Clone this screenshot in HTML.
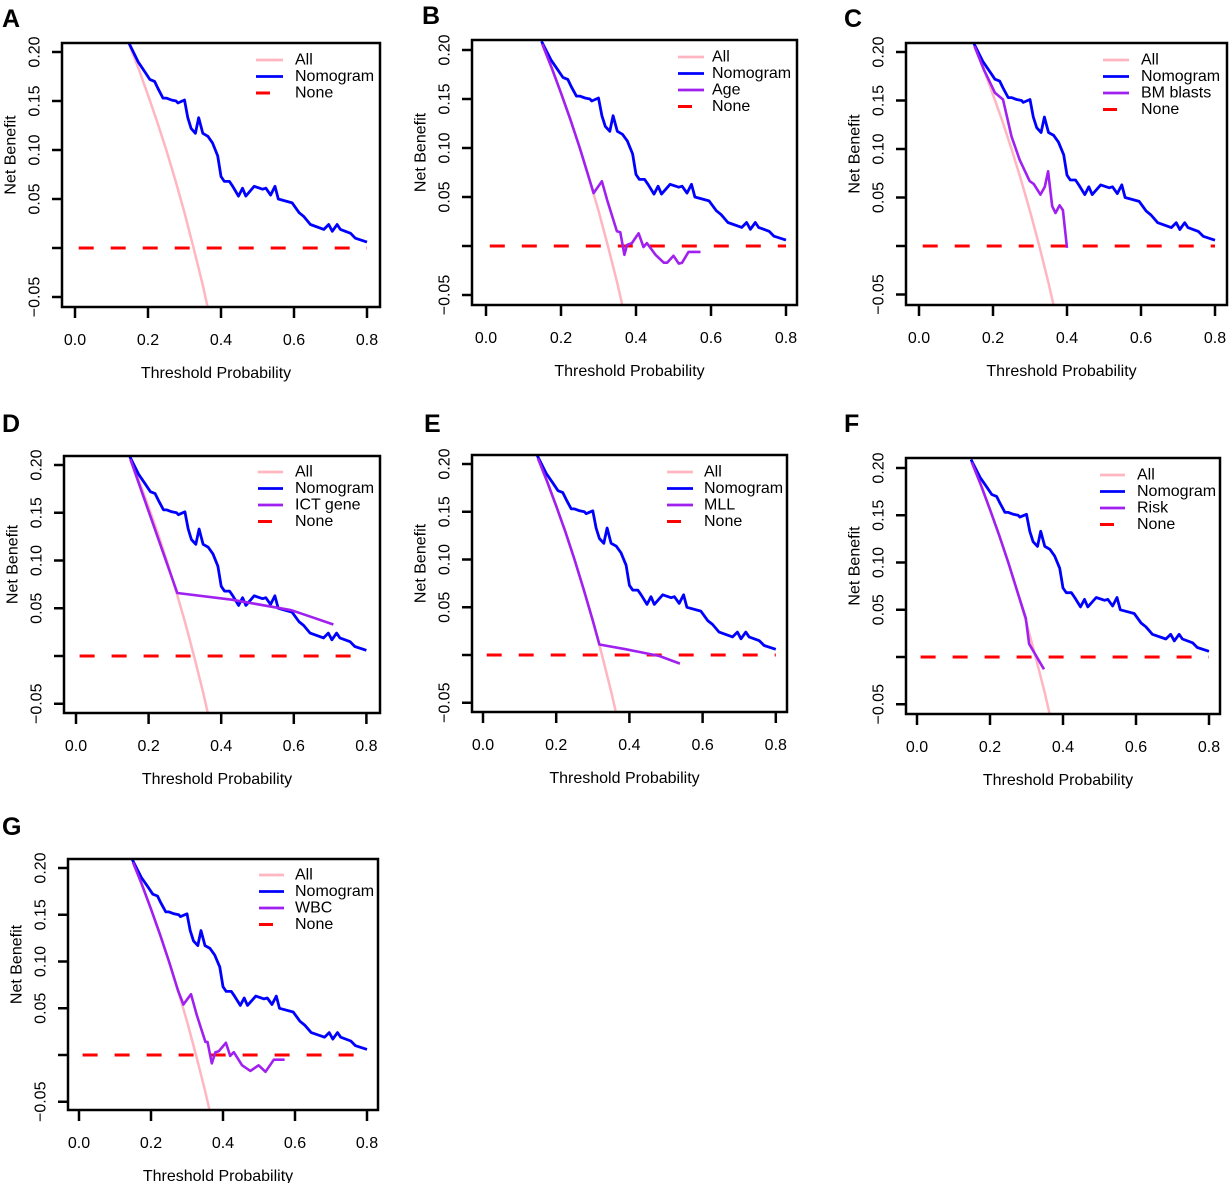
<!DOCTYPE html>
<html><head><meta charset="utf-8"><style>
html,body{margin:0;padding:0;background:#fff}
svg{display:block;font-family:"Liberation Sans",Arial,sans-serif}
</style></head><body>
<svg id="fig" width="1229" height="1183" viewBox="0 0 1229 1183" xmlns="http://www.w3.org/2000/svg"></svg>
<script>
// ---------- data ----------
const nomoX = [0.148,0.173,0.191,0.205,0.218,0.227,0.241,0.250,0.264,0.277,0.282,0.300,0.309,0.318,0.330,0.339,0.350,0.364,0.377,0.391,0.400,0.409,0.423,0.432,0.448,0.459,0.468,0.491,0.514,0.523,0.536,0.548,0.557,0.595,0.614,0.627,0.645,0.682,0.695,0.705,0.718,0.727,0.755,0.768,0.800];
const nomoY = [0.209,0.190,0.180,0.172,0.170,0.163,0.153,0.153,0.151,0.150,0.148,0.151,0.133,0.122,0.117,0.133,0.117,0.114,0.107,0.094,0.073,0.068,0.068,0.063,0.053,0.061,0.053,0.063,0.060,0.061,0.054,0.063,0.050,0.046,0.036,0.032,0.024,0.019,0.024,0.017,0.024,0.019,0.015,0.010,0.006];
const allX = [0.150,0.175,0.200,0.225,0.250,0.275,0.300,0.325,0.350,0.365];
const allY = [0.206,0.182,0.156,0.129,0.100,0.069,0.036,0.000,-0.038,-0.063];
const noneX = [0.01,0.80];
const noneY = [0,0];
const ageX = [0.150,0.175,0.200,0.225,0.250,0.275,0.287,0.309,0.323,0.349,0.358,0.369,0.376,0.389,0.407,0.420,0.429,0.452,0.474,0.483,0.500,0.514,0.523,0.540,0.572];
const ageY = [0.206,0.182,0.156,0.129,0.100,0.069,0.054,0.066,0.047,0.015,0.014,-0.009,0.001,0.003,0.013,-0.001,0.003,-0.009,-0.017,-0.017,-0.010,-0.018,-0.017,-0.006,-0.006];
const bmX = [0.150,0.175,0.205,0.227,0.250,0.272,0.299,0.310,0.328,0.340,0.349,0.360,0.369,0.380,0.389,0.400];
const bmY = [0.206,0.182,0.158,0.151,0.113,0.089,0.067,0.064,0.053,0.061,0.077,0.041,0.034,0.042,0.037,-0.002];
const ictX = [0.150,0.279,0.429,0.593,0.647,0.709];
const ictY = [0.206,0.066,0.059,0.048,0.041,0.033];
const mllX = [0.150,0.175,0.200,0.225,0.250,0.275,0.300,0.318,0.391,0.482,0.538];
const mllY = [0.206,0.182,0.156,0.129,0.100,0.069,0.036,0.011,0.006,-0.001,-0.009];
const riskX = [0.150,0.175,0.200,0.225,0.250,0.275,0.298,0.307,0.348];
const riskY = [0.206,0.182,0.156,0.129,0.100,0.069,0.041,0.014,-0.013];
const wbcX = [0.150,0.175,0.200,0.225,0.250,0.275,0.290,0.311,0.327,0.351,0.357,0.369,0.379,0.388,0.408,0.420,0.430,0.453,0.476,0.499,0.518,0.541,0.571];
const wbcY = [0.206,0.182,0.156,0.129,0.100,0.069,0.054,0.065,0.043,0.014,0.014,-0.009,0.003,0.004,0.013,-0.001,0.003,-0.011,-0.017,-0.011,-0.018,-0.005,-0.005];
const xTicks = [0,0.2,0.4,0.6,0.8];
const xTickLabels = ["0.0","0.2","0.4","0.6","0.8"];
const yTicks = [-0.05,0,0.05,0.10,0.15,0.20];
const yTickLabels = ["\u22120.05","","0.05","0.10","0.15","0.20"];

// ---------- layout ----------
const panels = [
 {id:"A",box:[62,43,380,307],x0:75,xs:365,y0:248,ys:980,lx:2,ly:27,leg:[256,283,295,60],cmp:null},
 {id:"B",box:[472,40,797,305],x0:486,xs:375,y0:246,ys:980,lx:422,ly:24,leg:[678,704,712,57],cmp:["Age",ageX,ageY]},
 {id:"C",box:[906,43,1227,305],x0:919,xs:370,y0:246,ys:970,lx:844,ly:27,leg:[1103,1129,1141,60],cmp:["BM blasts",bmX,bmY]},
 {id:"D",box:[64,456,380,713],x0:76,xs:363,y0:656,ys:955,lx:2,ly:432,leg:[258,283,295,472],cmp:["ICT gene",ictX,ictY]},
 {id:"E",box:[472,455,787,712],x0:483,xs:366,y0:655,ys:955,lx:424,ly:432,leg:[667,693,704,472],cmp:["MLL",mllX,mllY]},
 {id:"F",box:[906,458,1220,714],x0:917,xs:365,y0:657,ys:945,lx:844,ly:432,leg:[1100,1125,1137,475],cmp:["Risk",riskX,riskY]},
 {id:"G",box:[68,859,378,1110],x0:79,xs:360,y0:1055,ys:935,lx:2,ly:835,leg:[259,284,295,875],cmp:["WBC",wbcX,wbcY]}
];
const NS="http://www.w3.org/2000/svg";
const svg=document.getElementById("fig");
function mk(tag,attrs,parent){const e=document.createElementNS(NS,tag);for(const k in attrs)e.setAttribute(k,attrs[k]);(parent||svg).appendChild(e);return e;}

panels.forEach((p,pi)=>{
 const g=mk("g",{});
 
 
 const X=v=>p.x0+v*p.xs, Y=v=>p.y0-v*p.ys;
 const [l,t,r,b]=p.box;
 const cp=mk("clipPath",{id:"clip"+p.id},g);
 mk("rect",{x:l,y:t,width:r-l,height:b-t},cp);
 const lt=mk("text",{x:p.lx,y:p.ly,"font-size":"25","font-weight":"bold",fill:"#000"},g);
 lt.textContent=p.id;
 
 
 yTicks.forEach((v,i)=>{
  const y=Y(v);
  const tk=mk("line",{x1:l-10,x2:l,y1:y,y2:y,stroke:"#000","stroke-width":2.5},g);
  
  
  if(yTickLabels[i]){
   const tx=mk("text",{x:l-27,y:y,"font-size":"16","text-anchor":"middle","dominant-baseline":"central",transform:`rotate(-90 ${l-27} ${y})`,fill:"#000"},g);
   tx.textContent=yTickLabels[i];
   
   
  }
 });
 xTicks.forEach((v,i)=>{
  const x=X(v);
  const tk=mk("line",{x1:x,x2:x,y1:b+1,y2:b+11,stroke:"#000","stroke-width":2.5},g);
  
  
  const tx=mk("text",{x:x,y:b+38,"font-size":"16","text-anchor":"middle",fill:"#000"},g);
  tx.textContent=xTickLabels[i];
  
  
 });
 const xt=mk("text",{x:(l+r)/2-5,y:b+71,"font-size":"16","text-anchor":"middle",fill:"#000"},g);
 xt.textContent="Threshold Probability";
 
 
 const yc=(t+b)/2-20, yx=l-51;
 const yt=mk("text",{x:yx,y:yc,"font-size":"16","text-anchor":"middle","dominant-baseline":"central",transform:`rotate(-90 ${yx} ${yc})`,fill:"#000"},g);
 yt.textContent="Net Benefit";
 
 
 const pts=(xs,ys)=>xs.map((v,i)=>X(v).toFixed(1)+","+Y(ys[i]).toFixed(1)).join(" ");
 const cg=mk("g",{"clip-path":`url(#clip${p.id})`},g);
 const sAll=mk("polyline",{points:pts(allX,allY),fill:"none",stroke:"#FFB6C1","stroke-width":2.5},cg);
 
 
 const sNone=mk("polyline",{points:pts(noneX,noneY),fill:"none",stroke:"#FF0000","stroke-width":3,"stroke-dasharray":"15,17"},cg);
 
 
 const sNomo=mk("polyline",{points:pts(nomoX,nomoY),fill:"none",stroke:"#0000FF","stroke-width":2.8,"stroke-linejoin":"round"},cg);
 
 
 if(p.cmp){
  const sC=mk("polyline",{points:pts(p.cmp[1],p.cmp[2]),fill:"none",stroke:"#A020F0","stroke-width":2.6,"stroke-linejoin":"round"},cg);
  
  
 }
 const fr=mk("rect",{x:l,y:t,width:r-l,height:b-t,fill:"none",stroke:"#000","stroke-width":2.5},g);
 
 
 const [a1,a2,tx0,ly0]=p.leg;
 const entries=[["All","#FFB6C1",null],["Nomogram","#0000FF",null]];
 if(p.cmp) entries.push([p.cmp[0],"#A020F0",null]);
 entries.push(["None","#FF0000","dash"]);
 entries.forEach((e,i)=>{
  const y=ly0+i*16.5;
  const lg=mk("g",{},g);
  
  
  if(e[2]) mk("line",{x1:a1,x2:a1+14,y1:y,y2:y,stroke:e[1],"stroke-width":3},lg);
  else mk("line",{x1:a1,x2:a2,y1:y,y2:y,stroke:e[1],"stroke-width":2.8},lg);
  const tt=mk("text",{x:tx0,y:y,"font-size":"16","dominant-baseline":"central",fill:"#000"},lg);
  tt.textContent=e[0];
 });
});
</script>
</body></html>
